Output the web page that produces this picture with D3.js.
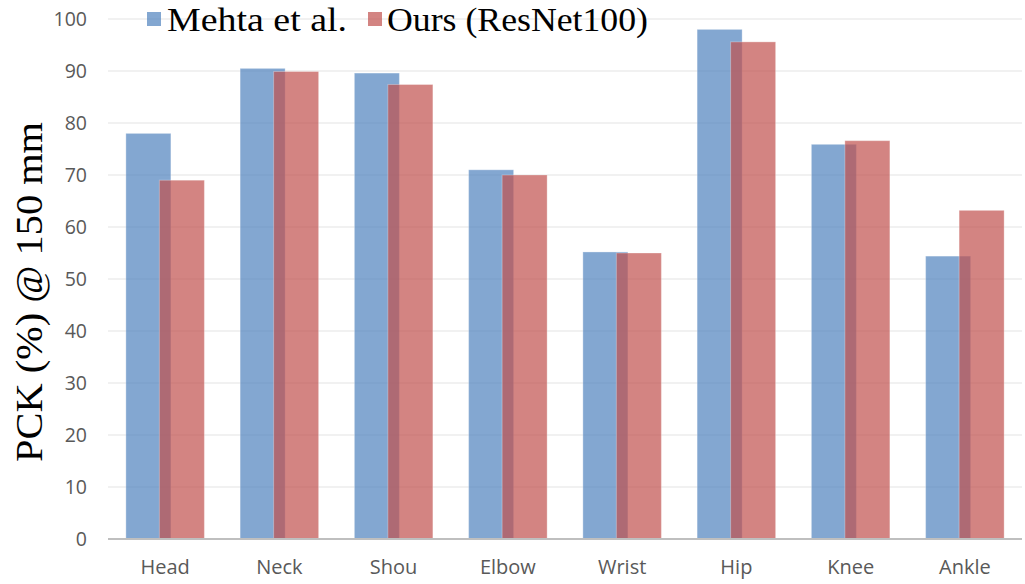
<!DOCTYPE html>
<html><head><meta charset="utf-8">
<script src="https://cdn.jsdelivr.net/npm/d3@7"></script>
<style>body{margin:0;background:#fff}</style>
</head><body>
<svg id="c" width="1025" height="584"></svg>
<script>
const categories = ["Head","Neck","Shou","Elbow","Wrist","Hip","Knee","Ankle"];
const mehta = [78.0, 90.5, 89.6, 71.0, 55.2, 98.0, 75.9, 54.4];
const ours = [69.0, 89.9, 87.4, 70.0, 55.0, 95.6, 76.6, 63.2];
const yTicks = [0,10,20,30,40,50,60,70,80,90,100];
const seriesNames = ["Mehta et al.", "Ours (ResNet100)"];

const svg = d3.select("#c");
const x = d3.scaleBand().domain(categories).range([108, 1022]);
const y = d3.scaleLinear().domain([0,100]).range([539, 19]);

// gridlines
svg.append("g").selectAll("line").data(yTicks.filter(d=>d>0)).join("line")
  .attr("x1",108).attr("x2",1022)
  .attr("y1",d=>y(d)).attr("y2",d=>y(d))
  .attr("stroke","#ececec").attr("stroke-width",1.5);

const bw = 45, off = 33.5;
const blue = "#4f81bd", red = "#c0504d";
svg.append("g").selectAll("rect").data(mehta).join("rect")
  .attr("x",(d,i)=>x(categories[i]) + x.bandwidth()/2 - (bw+off)/2)
  .attr("y",d=>y(d)).attr("width",bw).attr("height",d=>y(0)-y(d))
  .attr("fill",blue).attr("fill-opacity",0.7)
  .attr("stroke","#fff").attr("stroke-opacity",0.3).attr("stroke-width",1);
svg.append("g").selectAll("rect").data(ours).join("rect")
  .attr("x",(d,i)=>x(categories[i]) + x.bandwidth()/2 - (bw+off)/2 + off)
  .attr("y",d=>y(d)).attr("width",bw).attr("height",d=>y(0)-y(d))
  .attr("fill",red).attr("fill-opacity",0.7)
  .attr("stroke","#fff").attr("stroke-opacity",0.3).attr("stroke-width",1);

// x axis line
svg.append("line").attr("x1",108).attr("x2",1022).attr("y1",y(0)).attr("y2",y(0))
  .attr("stroke","#bfbfbf").attr("stroke-width",2);

// y tick labels
const yAxis = d3.axisLeft(y).tickValues(yTicks).tickSize(0).tickPadding(0);
const gy = svg.append("g").attr("transform","translate(87,0)").call(yAxis);
gy.select(".domain").remove();
gy.selectAll("text").attr("fill","#595959").style("font-family","'Open Sans', sans-serif").style("font-size","19.5px");

// x labels
const xAxis = d3.axisBottom(x).tickSize(0).tickPadding(0);
const gx = svg.append("g").attr("transform","translate(0,560)").call(xAxis);
gx.select(".domain").remove();
gx.selectAll("text").attr("fill","#595959").style("font-family","'Open Sans', sans-serif").style("font-size","20px");

// y title
svg.append("text").attr("transform","translate(42,292) rotate(-90)")
  .attr("text-anchor","middle").style("font-family","'Liberation Serif', serif")
  .style("font-size","38px").attr("fill","#000")
  .attr("textLength",340).attr("lengthAdjust","spacingAndGlyphs")
  .text("PCK (%) @ 150 mm");

// legend
const leg = [{name:seriesNames[0], c:blue, x:147, tx:167, len:180},{name:seriesNames[1], c:red, x:368, tx:387, len:261}];
leg.forEach(l=>{
  svg.append("rect").attr("x",l.x).attr("y",12).attr("width",14).attr("height",14)
    .attr("fill",l.c).attr("fill-opacity",0.7);
  svg.append("text").attr("x",l.tx).attr("y",31).style("font-family","'Liberation Serif', serif")
    .style("font-size","33px").attr("fill","#000")
    .attr("textLength",l.len).attr("lengthAdjust","spacingAndGlyphs")
    .text(l.name);
});
</script>
</body></html>
